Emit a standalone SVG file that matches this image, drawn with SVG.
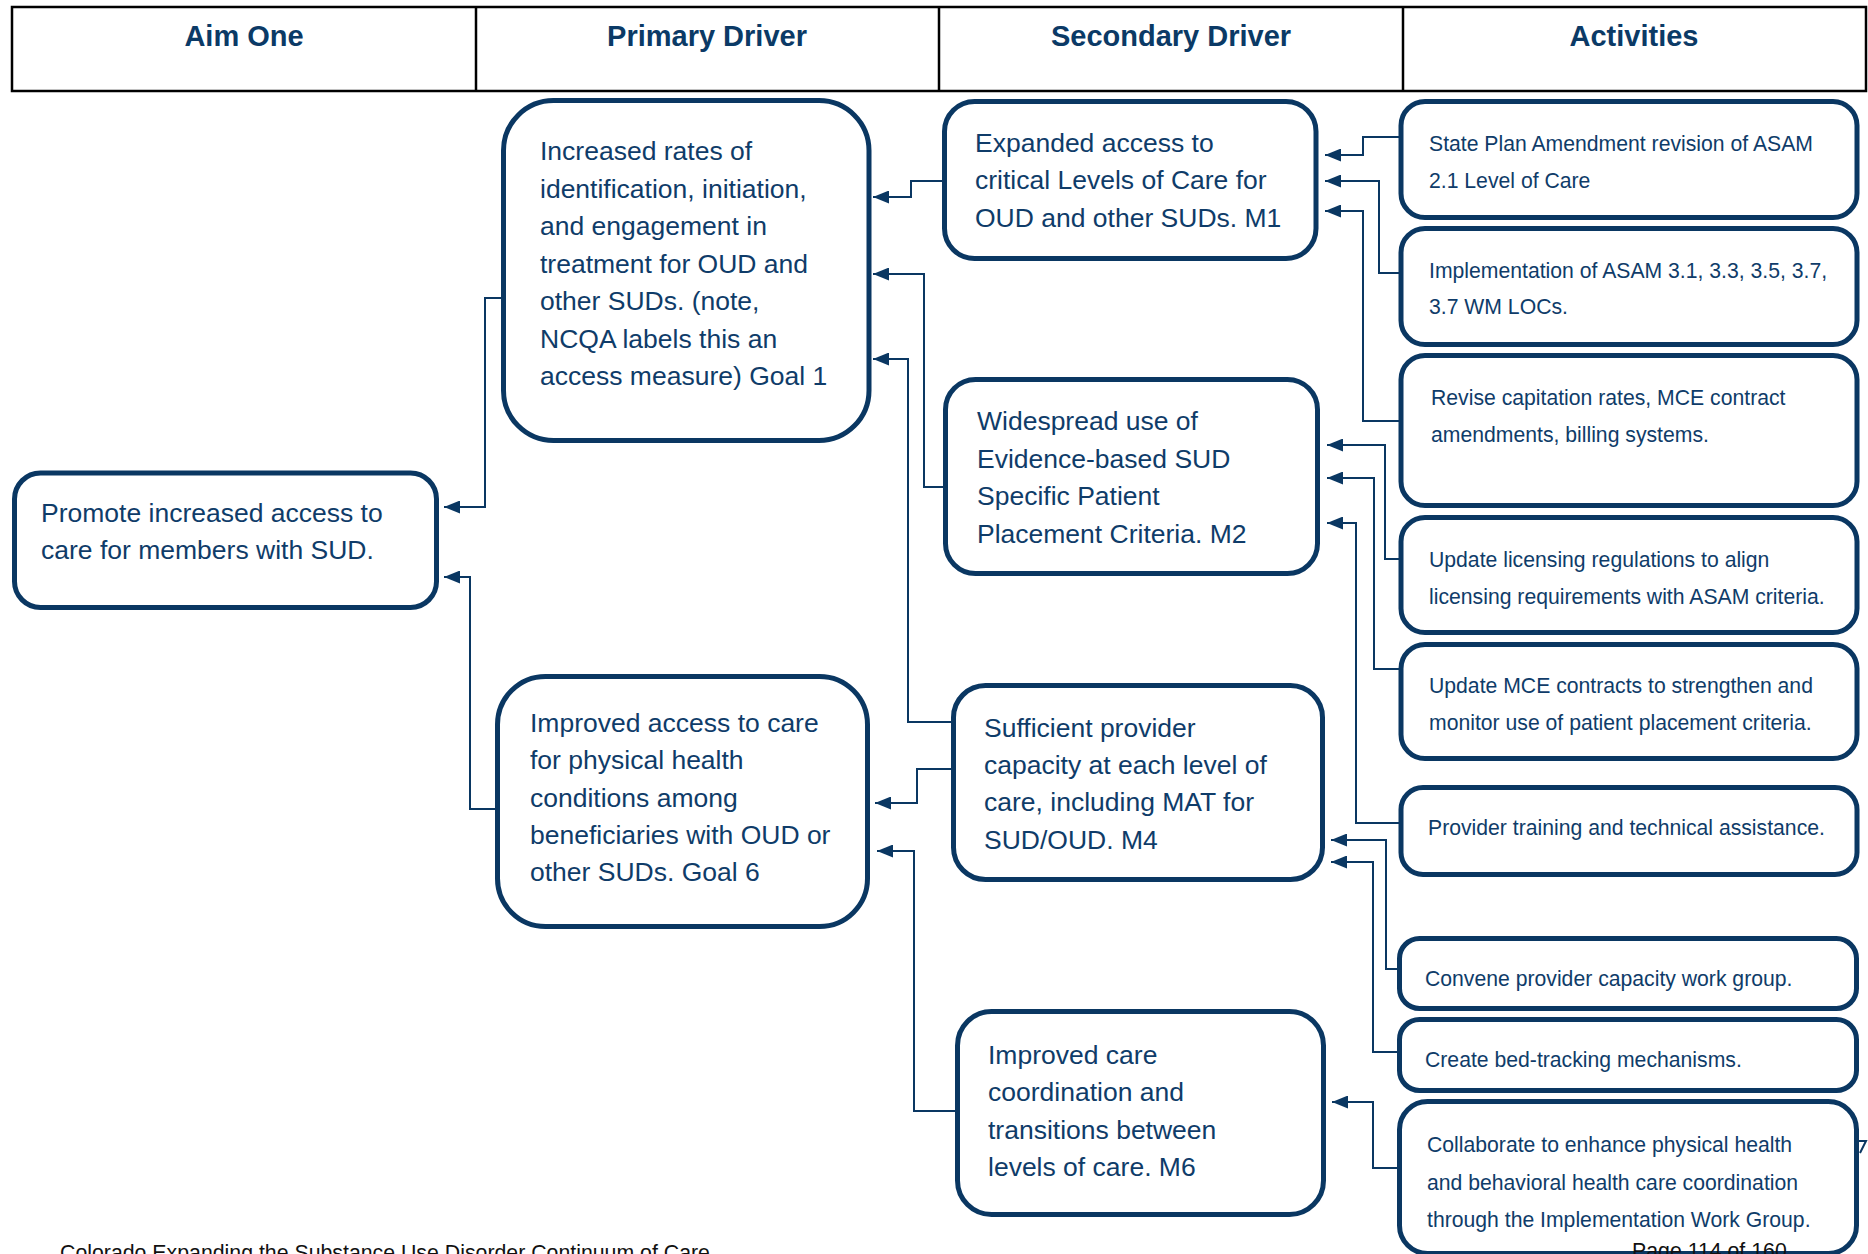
<svg xmlns="http://www.w3.org/2000/svg" width="1868" height="1254" viewBox="0 0 1868 1254">
<defs>
<style>
.hdr{font-family:"Liberation Sans",Arial,sans-serif;font-weight:bold;font-size:29px;fill:#0b3a66;text-anchor:middle}
.grid{fill:none;stroke:#000;stroke-width:2.5}
.box{fill:#fff;stroke:#0a3762;stroke-width:5}
.big{font-family:"Liberation Sans",Arial,sans-serif;font-size:26.5px;fill:#0f3c69}
.sm{font-family:"Liberation Sans",Arial,sans-serif;font-size:21.2px;fill:#0f3c69}
.con{fill:none;stroke:#0a3762;stroke-width:2;marker-end:url(#arr)}
.foot{font-family:"Liberation Sans",Arial,sans-serif;font-size:21.3px;fill:#111}
</style>
<marker id="arr" markerUnits="userSpaceOnUse" viewBox="0 0 16 13" refX="16" refY="6.5" markerWidth="16" markerHeight="13" orient="auto">
<path d="M0,0 L16,6.5 L0,13 z" fill="#0a3762"/>
</marker>
</defs>
<rect width="1868" height="1254" fill="#fff"/>
<g id="header">
<rect class="grid" x="12" y="7" width="1854" height="84"/>
<line class="grid" x1="476" y1="7" x2="476" y2="91"/>
<line class="grid" x1="939" y1="7" x2="939" y2="91"/>
<line class="grid" x1="1403" y1="7" x2="1403" y2="91"/>
<text class="hdr" x="244" y="45.5">Aim One</text>
<text class="hdr" x="707" y="45.5">Primary Driver</text>
<text class="hdr" x="1171" y="45.5">Secondary Driver</text>
<text class="hdr" x="1634" y="45.5">Activities</text>
</g>
<g id="connectors">
<path class="con" d="M501,298 H485 V507 H444"/>
<path class="con" d="M495,809 H470 V577 H444"/>
<path class="con" d="M943,181 H911 V197 H873"/>
<path class="con" d="M943,487 H924 V274 H873"/>
<path class="con" d="M951,722 H908 V359 H873"/>
<path class="con" d="M951,769 H917 V803 H875"/>
<path class="con" d="M955,1111 H914 V851 H877"/>
<path class="con" d="M1399,137 H1363 V155 H1325"/>
<path class="con" d="M1399,273 H1379 V181 H1325"/>
<path class="con" d="M1399,421 H1363 V211 H1325"/>
<path class="con" d="M1399,559 H1385 V445 H1327"/>
<path class="con" d="M1399,669 H1374 V478 H1327"/>
<path class="con" d="M1399,823 H1356 V523 H1327"/>
<path class="con" d="M1397,969 H1386 V840 H1331"/>
<path class="con" d="M1397,1052 H1373 V862 H1331"/>
<path class="con" d="M1397,1168 H1373 V1102 H1332"/>
</g>
<g id="aim">
<rect class="box" x="14.5" y="473" width="422" height="134.5" rx="26"/>
<text class="big" x="41" y="522">Promote increased access to</text>
<text class="big" x="41" y="559">care for members with SUD.</text>
</g>
<g id="p1">
<rect class="box" x="503.5" y="100.5" width="365.5" height="340" rx="50"/>
<text class="big" x="540" y="160">Increased rates of</text>
<text class="big" x="540" y="197.5">identification, initiation,</text>
<text class="big" x="540" y="235">and engagement in</text>
<text class="big" x="540" y="272.5">treatment for OUD and</text>
<text class="big" x="540" y="310">other SUDs. (note,</text>
<text class="big" x="540" y="347.5">NCQA labels this an</text>
<text class="big" x="540" y="385">access measure) Goal 1</text>
</g>
<g id="p2">
<rect class="box" x="497.5" y="676.5" width="370" height="250" rx="48"/>
<text class="big" x="530" y="731.5">Improved access to care</text>
<text class="big" x="530" y="769">for physical health</text>
<text class="big" x="530" y="806.5">conditions among</text>
<text class="big" x="530" y="844">beneficiaries with OUD or</text>
<text class="big" x="530" y="881">other SUDs. Goal 6</text>
</g>
<g id="s1">
<rect class="box" x="944.5" y="101.5" width="371.5" height="157" rx="30"/>
<text class="big" x="975" y="151.5">Expanded access to</text>
<text class="big" x="975" y="189">critical Levels of Care for</text>
<text class="big" x="975" y="226.5">OUD and other SUDs. M1</text>
</g>
<g id="s2">
<rect class="box" x="945.5" y="379.5" width="372" height="194" rx="30"/>
<text class="big" x="977" y="430">Widespread use of</text>
<text class="big" x="977" y="467.5">Evidence-based SUD</text>
<text class="big" x="977" y="505">Specific Patient</text>
<text class="big" x="977" y="542.5">Placement Criteria. M2</text>
</g>
<g id="s3">
<rect class="box" x="953.5" y="685.5" width="369" height="194" rx="32"/>
<text class="big" x="984" y="736.5">Sufficient provider</text>
<text class="big" x="984" y="773.5">capacity at each level of</text>
<text class="big" x="984" y="811">care, including MAT for</text>
<text class="big" x="984" y="848.5">SUD/OUD. M4</text>
</g>
<g id="s4">
<rect class="box" x="957.5" y="1011.5" width="366" height="203" rx="34"/>
<text class="big" x="988" y="1064">Improved care</text>
<text class="big" x="988" y="1101">coordination and</text>
<text class="big" x="988" y="1138.5">transitions between</text>
<text class="big" x="988" y="1176">levels of care. M6</text>
</g>
<g id="a1">
<rect class="box" x="1401" y="101.5" width="456" height="116" rx="24"/>
<text class="sm" x="1429" y="151">State Plan Amendment revision of ASAM</text>
<text class="sm" x="1429" y="188">2.1 Level of Care</text>
</g>
<g id="a2">
<rect class="box" x="1401" y="228.5" width="456" height="116" rx="24"/>
<text class="sm" x="1429" y="277.5">Implementation of ASAM 3.1, 3.3, 3.5, 3.7,</text>
<text class="sm" x="1429" y="314">3.7 WM LOCs.</text>
</g>
<g id="a3">
<rect class="box" x="1401" y="355.5" width="456" height="150" rx="24"/>
<text class="sm" x="1431" y="405">Revise capitation rates, MCE contract</text>
<text class="sm" x="1431" y="442">amendments, billing systems.</text>
</g>
<g id="a4">
<rect class="box" x="1401" y="517.5" width="456" height="115" rx="24"/>
<text class="sm" x="1429" y="567">Update licensing regulations to align</text>
<text class="sm" x="1429" y="603.5">licensing requirements with ASAM criteria.</text>
</g>
<g id="a5">
<rect class="box" x="1401" y="644.5" width="456" height="114" rx="24"/>
<text class="sm" x="1429" y="693">Update MCE contracts to strengthen and</text>
<text class="sm" x="1429" y="730">monitor use of patient placement criteria.</text>
</g>
<g id="a6">
<rect class="box" x="1401" y="787.5" width="456" height="87" rx="22"/>
<text class="sm" x="1428" y="835">Provider training and technical assistance.</text>
</g>
<g id="a7">
<rect class="box" x="1399.5" y="938.5" width="457" height="70" rx="20"/>
<text class="sm" x="1425" y="986">Convene provider capacity work group.</text>
</g>
<g id="a8">
<rect class="box" x="1399.5" y="1019.5" width="457" height="71" rx="20"/>
<text class="sm" x="1425" y="1067">Create bed-tracking mechanisms.</text>
</g>
<g id="a9">
<rect class="box" x="1399.5" y="1101.5" width="457" height="152" rx="28"/>
<text class="sm" x="1427" y="1152">Collaborate to enhance physical health</text>
<text class="sm" x="1427" y="1189.5">and behavioral health care coordination</text>
<text class="sm" x="1427" y="1227">through the Implementation Work Group.</text>
</g>
<path d="M1858,1141 H1866 L1860,1153" fill="none" stroke="#0a3762" stroke-width="2"/>
<g id="footer">
<text class="foot" x="60" y="1260">Colorado Expanding the Substance Use Disorder Continuum of Care</text>
<text class="foot" x="1632" y="1258">Page 114 of 160</text>
</g>
</svg>
